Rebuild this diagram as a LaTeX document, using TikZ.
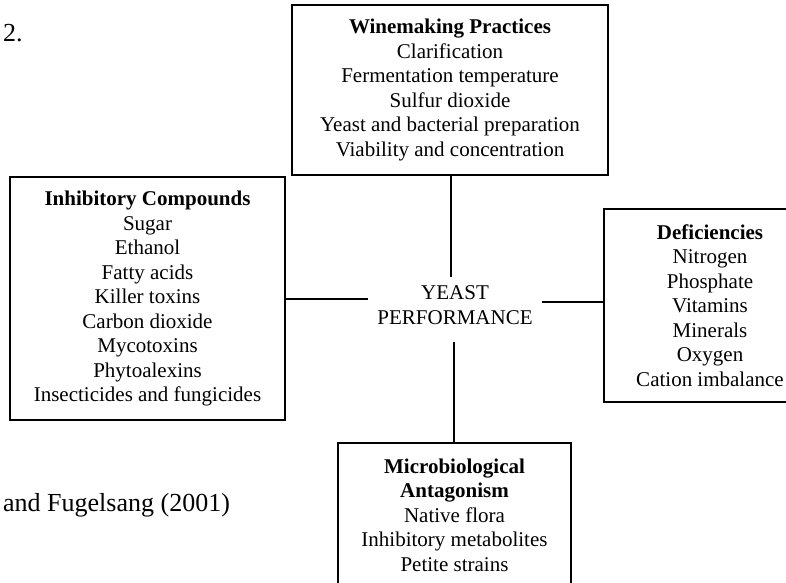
\documentclass[tikz,border=0pt]{standalone}
\usepackage{fontspec}
\setmainfont{Liberation Serif}
\begin{document}
\begin{tikzpicture}[x=1pt,y=-1pt,
  boxfont/.style={font=\fontsize{21}{24.5}\selectfont},
  box/.style={draw, line width=2pt, align=center, boxfont, inner sep=0pt},
  conn/.style={line width=2pt},
  captxt/.style={font=\fontsize{26}{30}\selectfont, anchor=west, inner sep=0pt}]
\useasboundingbox (0,0) rectangle (786,582);
\node[captxt] (num) at (3,33) {2.};
\node[captxt] (src) at (3,505) {and Fugelsang (2001)};
\node[box, minimum width=316, minimum height=170] (wp) at (450,90)
  {\textbf{Winemaking Practices}\\Clarification\\Fermentation temperature\\Sulfur dioxide\\Yeast and bacterial preparation\\Viability and concentration};
\node[box, minimum width=275, minimum height=243] (ic) at (147.5,298.5)
  {\textbf{Inhibitory Compounds}\\Sugar\\Ethanol\\Fatty acids\\Killer toxins\\Carbon dioxide\\Mycotoxins\\Phytoalexins\\Insecticides and fungicides};
\node[box, minimum width=212, minimum height=193] (df) at (710,305.5)
  {\textbf{Deficiencies}\\Nitrogen\\Phosphate\\Vitamins\\Minerals\\Oxygen\\Cation imbalance};
\node[box, minimum width=233, minimum height=144] (ma) at (454.5,515)
  {\textbf{Microbiological}\\\textbf{Antagonism}\\Native flora\\Inhibitory metabolites\\Petite strains};
\node[align=center, boxfont, inner sep=0pt] (yp) at (455,305) {YEAST\\PERFORMANCE};
\coordinate (ypT) at (451,277);
\coordinate (ypL) at (368,299);
\coordinate (ypR) at (542,302);
\coordinate (ypB) at (454,342);
\draw[conn] (wp.south -| ypT) -- (ypT);
\draw[conn] (ic.east |- ypL) -- (ypL);
\draw[conn] (ypR) -- (df.west |- ypR);
\draw[conn] (ypB) -- (ma.north -| ypB);
\end{tikzpicture}
\end{document}
